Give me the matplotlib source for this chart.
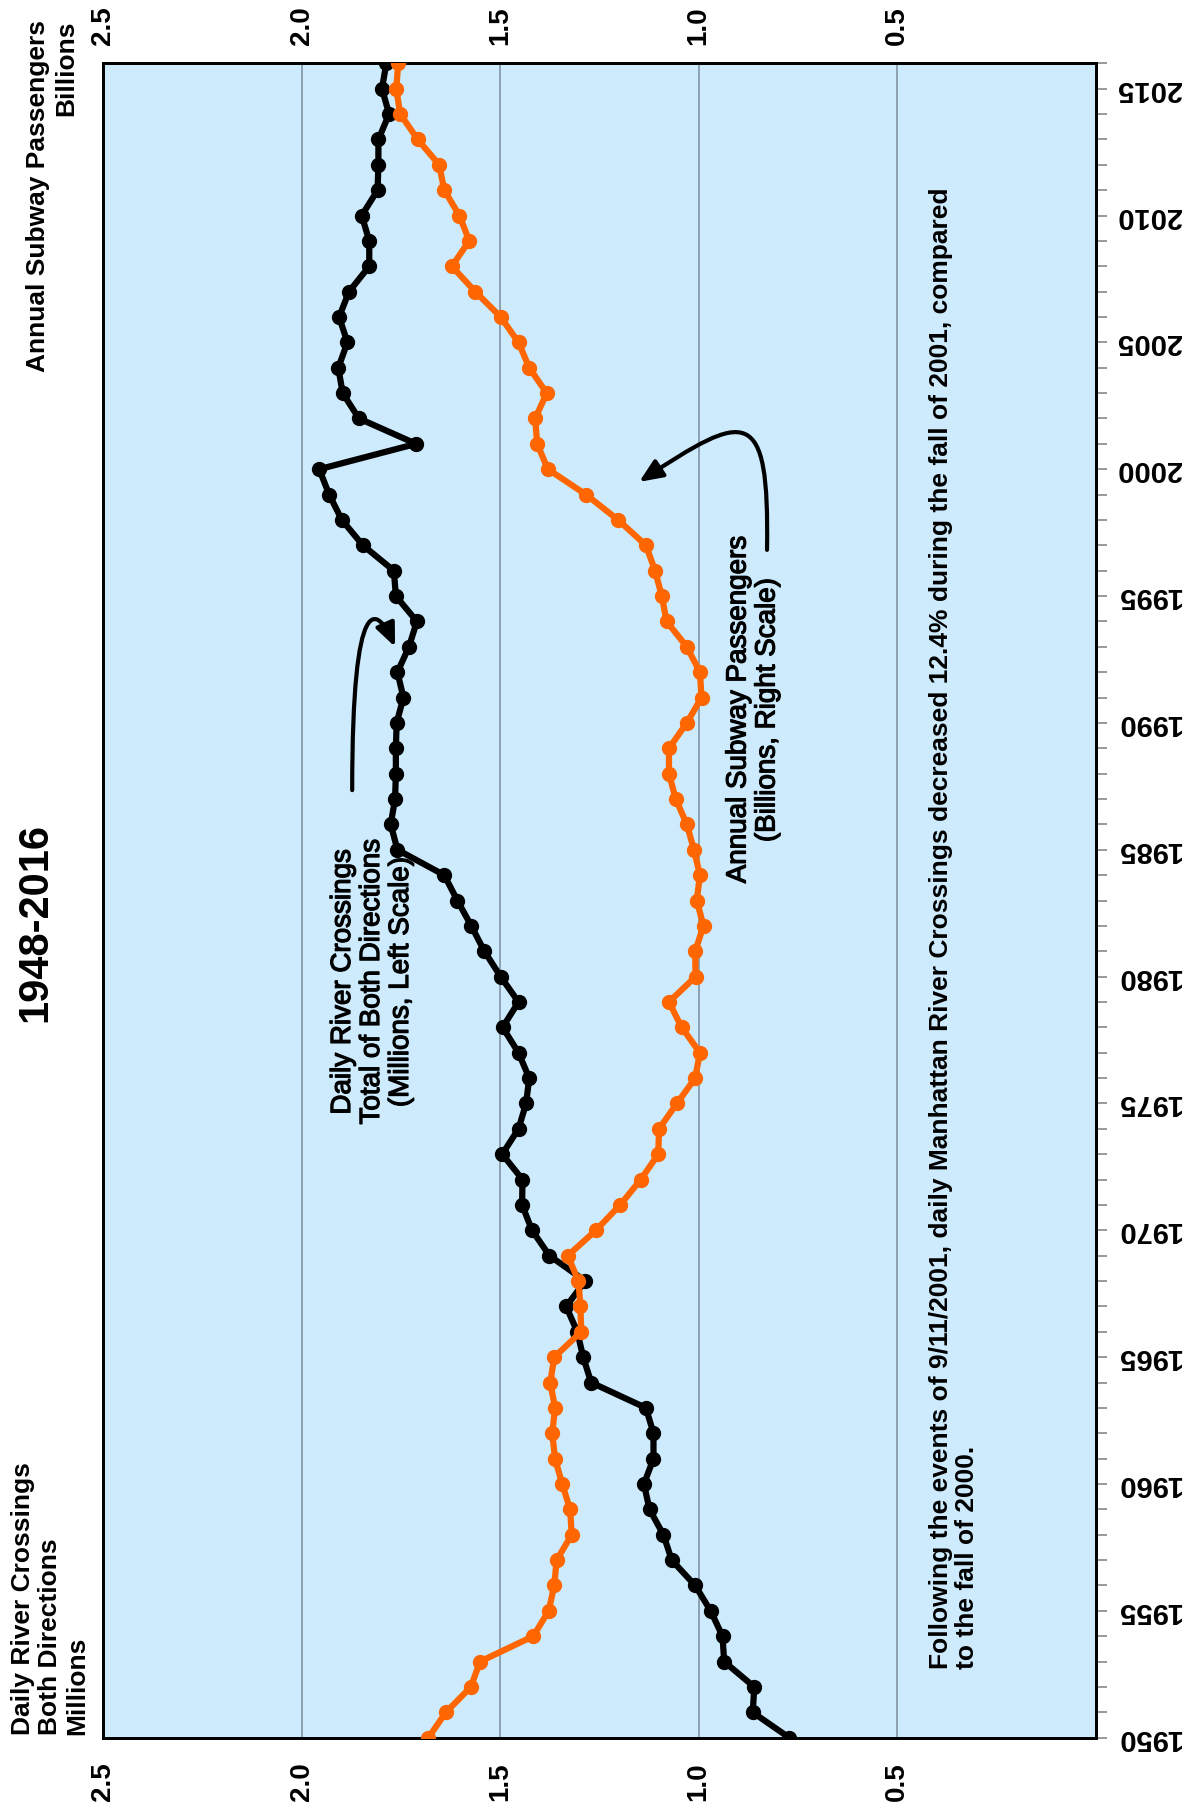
import numpy as np
import matplotlib
matplotlib.use("Agg")
import matplotlib.pyplot as plt
import matplotlib.patheffects as pe
from matplotlib.path import Path
from matplotlib.patches import FancyArrowPatch

plt.rcParams['font.family'] = ['Liberation Sans', 'DejaVu Sans']

years = list(range(1950, 2017))

# daily river crossings, millions (left scale)
crossings = [0.772, 0.864, 0.860, 0.936, 0.940, 0.970, 1.009, 1.068, 1.089, 1.124,
             1.138, 1.114, 1.114, 1.133, 1.271, 1.291, 1.306, 1.334, 1.286, 1.376,
             1.420, 1.445, 1.444, 1.495, 1.454, 1.435, 1.427, 1.454, 1.494, 1.454,
             1.499, 1.540, 1.573, 1.608, 1.641, 1.759, 1.776, 1.765, 1.763, 1.763,
             1.761, 1.744, 1.759, 1.730, 1.710, 1.763, 1.768, 1.846, 1.899, 1.931,
             1.956, 1.712, 1.856, 1.897, 1.908, 1.885, 1.906, 1.881, 1.830, 1.830,
             1.849, 1.809, 1.807, 1.807, 1.780, 1.798, 1.787]

# annual subway passengers, billions (right scale)
subway = [1.681, 1.637, 1.574, 1.551, 1.417, 1.378, 1.364, 1.358, 1.320, 1.324,
          1.344, 1.362, 1.369, 1.362, 1.374, 1.364, 1.296, 1.298, 1.303, 1.330,
          1.259, 1.198, 1.146, 1.102, 1.100, 1.055, 1.009, 0.997, 1.043, 1.075,
          1.008, 1.009, 0.988, 1.005, 0.997, 1.012, 1.030, 1.058, 1.075, 1.075,
          1.030, 0.993, 0.997, 1.030, 1.081, 1.093, 1.110, 1.133, 1.203, 1.284,
          1.380, 1.407, 1.412, 1.383, 1.427, 1.454, 1.499, 1.563, 1.622, 1.578,
          1.603, 1.641, 1.654, 1.708, 1.752, 1.762, 1.757]

value_ticks = [2.5, 2.0, 1.5, 1.0, 0.5]
value_labels = ["2.5", "2.0", "1.5", "1.0", "0.5"]
year_ticks = list(range(1950, 2016, 5))

W, H = 1186, 1811
fig = plt.figure(figsize=(W / 100, H / 100), dpi=100)


def fx(px):
    return px / W


def fy(py):
    return 1 - py / H


ax = fig.add_axes([fx(103.3), fy(1737.7), fx(1095.7) - fx(103.3), fy(63.3) - fy(1737.7)])
ax.set_facecolor('#cdebfd')
ax.set_xlim(2.5, 0)
ax.set_ylim(1950, 2016)

for v in [2.0, 1.5, 1.0, 0.5]:
    ax.axvline(v, color='#7d8c9c', lw=1.1, zorder=1)

ax.plot(crossings, years, color='black', lw=4.5, marker='o', ms=10, zorder=3)

ax2 = ax.twiny()
ax2.set_xlim(2.5, 0)
ax2.set_ylim(1950, 2016)
ax2.plot(subway, years, color='#ff6600', lw=4.5, marker='o', ms=10, zorder=3)

for a in (ax, ax2):
    for s in a.spines.values():
        s.set_linewidth(2)
        s.set_color('black')

ax.set_xticks(value_ticks)
ax.set_xticklabels(value_labels, rotation=90, fontsize=20, fontweight='bold')
ax.tick_params(axis='x', length=0, pad=18)
ax2.set_xticks(value_ticks)
ax2.set_xticklabels(value_labels, rotation=90, fontsize=20, fontweight='bold')
ax2.tick_params(axis='x', length=0, pad=13)

ax.yaxis.tick_right()
ax.set_yticks(year_ticks)
ax.set_yticks(years, minor=True)
ax.set_yticklabels([str(y) for y in year_ticks], rotation=180, fontsize=21,
                   fontweight='bold', va='center')
ax.tick_params(axis='y', which='both', length=8, width=1.2, color='#888888', pad=7)

# titles and axis captions
fig.text(fx(35), fy(923), "1948-2016", rotation=90, fontsize=30, fontweight='bold',
         ha='center', va='center')
fig.text(fx(52), fy(20), "Annual Subway Passengers\nBillions", rotation=90,
         fontsize=19, fontweight='bold', ha='center', va='top', multialignment='right')
fig.text(fx(50), fy(1735), "Daily River Crossings\nBoth Directions\nMillions", rotation=90,
         fontsize=19, fontweight='bold', ha='center', va='bottom', multialignment='left',
         linespacing=1.15)

# series annotations
heavy = [pe.withStroke(linewidth=0.9, foreground='black')]
fig.text(fx(372), fy(982), "Daily River Crossings\nTotal of Both Directions\n(Millions, Left Scale)",
         rotation=90, fontsize=20, ha='center', va='center', multialignment='center',
         linespacing=1.15, path_effects=heavy)
fig.text(fx(753), fy(710), "Annual Subway Passengers\n(Billions, Right Scale)",
         rotation=90, fontsize=20, ha='center', va='center', multialignment='center',
         linespacing=1.15, path_effects=heavy)

fig.text(fx(954), fy(1669),
         "Following the events of 9/11/2001, daily Manhattan River Crossings decreased 12.4% during the fall of 2001, compared\nto the fall of 2000.",
         rotation=90, fontsize=19, fontweight='bold', ha='center', va='bottom',
         multialignment='left', linespacing=1.15)

# curved arrows
head = '-|>,head_length=0.7,head_width=0.3'
arrow1 = Path([(1.873, 1987.35), (1.873, 1995.4), (1.81, 1994.6), (1.765, 1993.0)],
              [Path.MOVETO, Path.CURVE4, Path.CURVE4, Path.CURVE4])
ax2.add_patch(FancyArrowPatch(path=arrow1, arrowstyle=head,
                              color='black', lw=3, mutation_scale=20, zorder=4))
arrow2 = Path([(0.828, 1996.82), (0.822, 2002.6), (0.88, 2002.3), (1.150, 1999.5)],
              [Path.MOVETO, Path.CURVE4, Path.CURVE4, Path.CURVE4])
ax2.add_patch(FancyArrowPatch(path=arrow2, arrowstyle=head,
                              color='black', lw=3, mutation_scale=20, zorder=4))

fig.savefig('out.png', dpi=100)
